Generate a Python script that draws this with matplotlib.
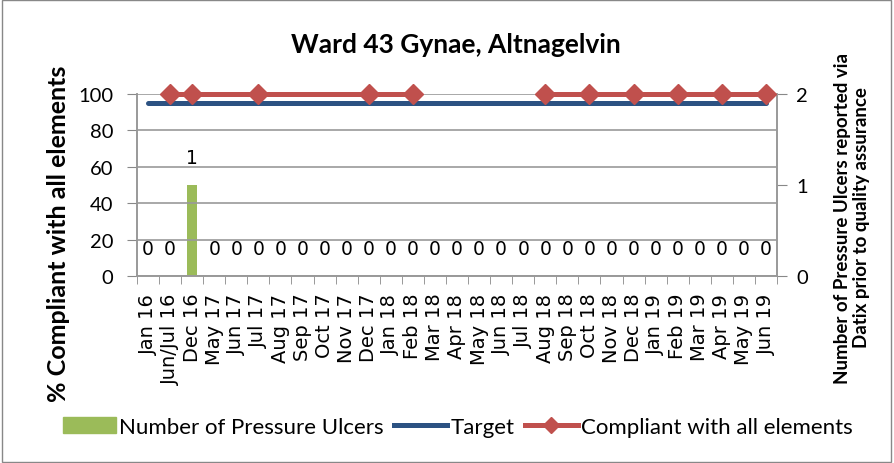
import matplotlib.pyplot as plt
import matplotlib.patches as patches
from matplotlib.lines import Line2D
import numpy as np

plt.rcParams['font.family'] = ['Lato', 'DejaVu Sans']

months = ['Jan 16', 'Jun/Jul 16', 'Dec 16', 'May 17', 'Jun 17', 'Jul 17', 'Aug 17',
          'Sep 17', 'Oct 17', 'Nov 17', 'Dec 17', 'Jan 18', 'Feb 18', 'Mar 18',
          'Apr 18', 'May 18', 'Jun 18', 'Jul 18', 'Aug 18', 'Sep 18', 'Oct 18',
          'Nov 18', 'Dec 18', 'Jan 19', 'Feb 19', 'Mar 19', 'Apr 19', 'May 19', 'Jun 19']
ulcers = [0, 0, 1, 0, 0, 0, 0, 0, 0, 0, 0, 0, 0, 0, 0, 0, 0, 0, 0, 0, 0, 0, 0, 0, 0, 0, 0, 0, 0]
target = [95] * len(months)
# None = no audit that month
compliant = [None, 100, 100, None, None, 100, None, None, None, None, 100, None, 100, None,
             None, None, None, None, 100, None, 100, None, 100, None, 100, None, 100, None, 100]
# line is broken between Feb 18 and Aug 18
break_at = 'Aug 18'

x = np.arange(len(months))

fig = plt.figure(figsize=(8.94, 4.64), dpi=100)
ax = fig.add_axes([137 / 894, 1 - 277 / 464, 640 / 894, 182 / 464])
ax2 = ax.twinx()

ax2.bar(x, ulcers, width=0.45, color='#9BBB59', zorder=2)
for xi, v in zip(x, ulcers):
    ax2.annotate(str(v), (xi, v), xytext=(0, 19.5), textcoords='offset points',
                 ha='center', va='center', fontsize=13.5, family='DejaVu Sans')
ax2.set_ylim(0, 2)
ax2.set_yticks([0, 1, 2])

ax.plot(x, target, color='#2C5282', lw=3.6, solid_capstyle='round', zorder=3)

split = months.index(break_at)
for lo, hi in [(0, split), (split, len(months))]:
    xs = [i for i in range(lo, hi) if compliant[i] is not None]
    ys = [compliant[i] for i in xs]
    ax.plot(xs, ys, color='#C0504D', lw=3.6, marker='D', ms=10, clip_on=False, zorder=4)

ax.set_zorder(ax2.get_zorder() + 1)
ax.patch.set_visible(False)

ax.set_ylim(0, 100)
ax.set_yticks(range(0, 101, 20))
ax.set_xlim(-0.5, len(months) - 0.5)
ax.set_xticks(x)
ax.set_xticklabels(months, rotation=90, fontsize=14, family='DejaVu Sans')
ax.set_xticks(np.arange(-0.5, len(months), 1), minor=True)
ax.tick_params(axis='x', which='major', length=0, pad=12)
ax.tick_params(axis='x', which='minor', length=6, color='#888888', direction='out')
ax.tick_params(axis='y', labelsize=14.5, length=7, color='#888888', pad=10)
ax2.tick_params(axis='y', labelsize=14.5, length=7, color='#888888', pad=7)
ax.grid(axis='y', color='#999999', lw=1.2)

for a in (ax, ax2):
    a.spines['top'].set_visible(False)
    for s in ['left', 'right', 'bottom']:
        a.spines[s].set_color('#999999')
        a.spines[s].set_linewidth(1.2)

ax.set_ylabel('% Compliant with all elements', fontsize=18, fontweight='bold')
ax.yaxis.set_label_coords(-0.105, 0.236)
ax2.set_ylabel('Number of Pressure Ulcers reported via\nDatix prior to quality assurance',
               fontsize=13.5, fontweight='bold', rotation=90, linespacing=1.15)
ax2.yaxis.set_label_coords(1.089, 0.324)
fig.text(456 / 894, 1 - 45 / 464, 'Ward 43 Gynae, Altnagelvin', ha='center', va='center',
         fontsize=19, fontweight='bold')

handles = [patches.Patch(color='#9BBB59'),
           Line2D([], [], color='#2C5282', lw=3.6),
           Line2D([], [], color='#C0504D', lw=3.6, marker='D', ms=8)]
labels = ['Number of Pressure Ulcers', 'Target', 'Compliant with all elements']
fig.legend(handles, labels, loc='center', bbox_to_anchor=(458 / 894, 1 - 428 / 464),
           ncol=3, frameon=False, fontsize=16, handlelength=2.4, handletextpad=0.15,
           columnspacing=0.45)

fig.add_artist(patches.Rectangle((0.002, 0.003), 0.995, 0.994, transform=fig.transFigure,
                                 fill=False, edgecolor='#888888', lw=1))

fig.savefig('out.png', dpi=100)
